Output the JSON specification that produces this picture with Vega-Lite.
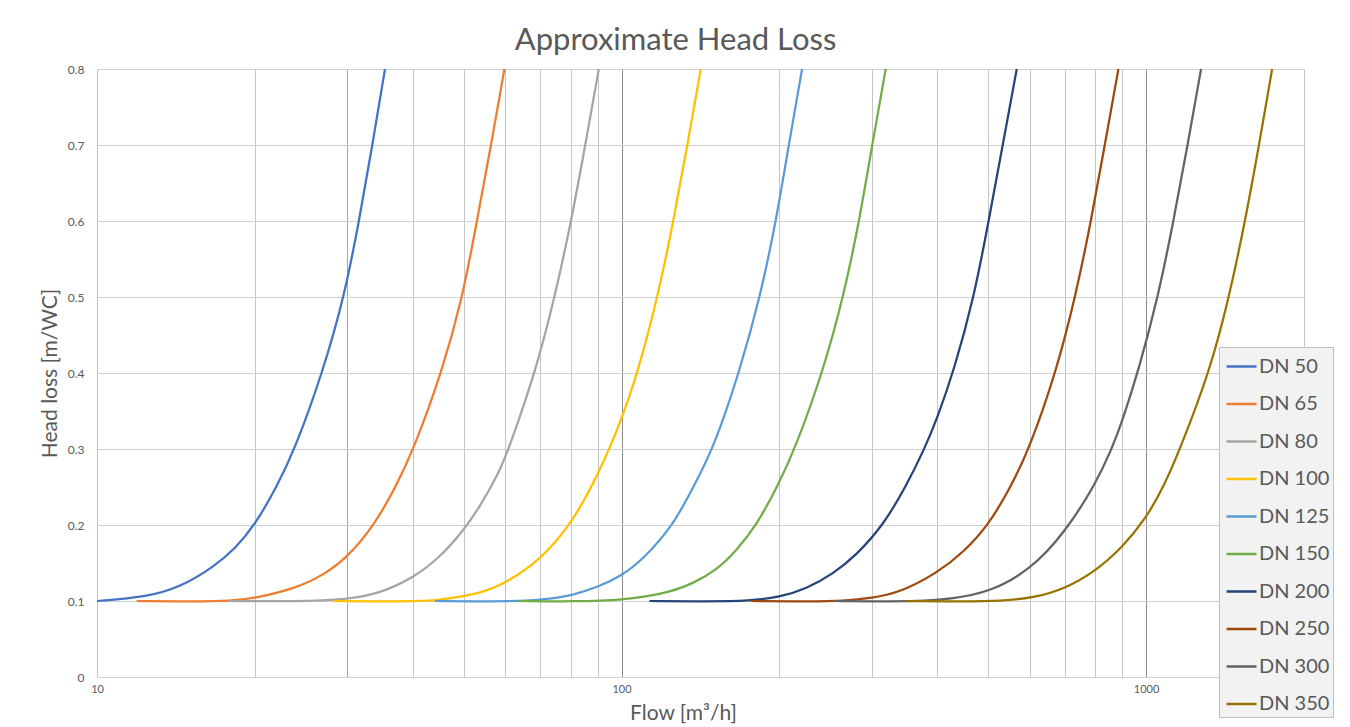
{
  "$schema": "https://vega.github.io/schema/vega-lite/v6.json",
  "autosize": {"type": "none"},
  "padding": {"left": 97, "top": 69, "right": 46, "bottom": 50},
  "width": 1207,
  "height": 608,
  "background": "white",
  "config": {
    "font": "Lato",
    "view": {"stroke": null},
    "axis": {"labelFont": "Lato", "titleFont": "Lato", "labelColor": "#595959", "titleColor": "#595959", "titleFontWeight": "normal"}
  },
  "title": {
    "text": "Approximate Head Loss",
    "fontSize": 31,
    "fontWeight": "normal",
    "color": "#595959",
    "font": "Lato",
    "anchor": "middle",
    "baseline": "alphabetic",
    "offset": -18,
    "dx": -25
  },
  "data": {
    "values": [
      {"s": "DN 50", "q": 10, "h": 0.1},
      {"s": "DN 50", "q": 12.4, "h": 0.105},
      {"s": "DN 50", "q": 14.4, "h": 0.118},
      {"s": "DN 50", "q": 16.7, "h": 0.145},
      {"s": "DN 50", "q": 18.4, "h": 0.17},
      {"s": "DN 50", "q": 20, "h": 0.2},
      {"s": "DN 50", "q": 22, "h": 0.25},
      {"s": "DN 50", "q": 23.85, "h": 0.3},
      {"s": "DN 50", "q": 26.9, "h": 0.4},
      {"s": "DN 50", "q": 29.6, "h": 0.5},
      {"s": "DN 50", "q": 31.6, "h": 0.6},
      {"s": "DN 50", "q": 33.5, "h": 0.7},
      {"s": "DN 50", "q": 35.4, "h": 0.8},

      {"s": "DN 65", "q": 11.9, "h": 0.1},
      {"s": "DN 65", "q": 15.5, "h": 0.0993},
      {"s": "DN 65", "q": 17.9, "h": 0.1},
      {"s": "DN 65", "q": 20, "h": 0.1035},
      {"s": "DN 65", "q": 24, "h": 0.117},
      {"s": "DN 65", "q": 27, "h": 0.134},
      {"s": "DN 65", "q": 30, "h": 0.157},
      {"s": "DN 65", "q": 33.8, "h": 0.2},
      {"s": "DN 65", "q": 37.1, "h": 0.25},
      {"s": "DN 65", "q": 40, "h": 0.297},
      {"s": "DN 65", "q": 45.4, "h": 0.4},
      {"s": "DN 65", "q": 49.8, "h": 0.5},
      {"s": "DN 65", "q": 53, "h": 0.6},
      {"s": "DN 65", "q": 56.4, "h": 0.7},
      {"s": "DN 65", "q": 59.8, "h": 0.8},

      {"s": "DN 80", "q": 17.9, "h": 0.1},
      {"s": "DN 80", "q": 24, "h": 0.0993},
      {"s": "DN 80", "q": 30, "h": 0.102},
      {"s": "DN 80", "q": 34.6, "h": 0.11},
      {"s": "DN 80", "q": 40, "h": 0.13},
      {"s": "DN 80", "q": 45, "h": 0.157},
      {"s": "DN 80", "q": 50, "h": 0.193},
      {"s": "DN 80", "q": 53.7, "h": 0.224},
      {"s": "DN 80", "q": 58.7, "h": 0.272},
      {"s": "DN 80", "q": 61.3, "h": 0.305},
      {"s": "DN 80", "q": 68.7, "h": 0.404},
      {"s": "DN 80", "q": 74.6, "h": 0.5},
      {"s": "DN 80", "q": 80.2, "h": 0.6},
      {"s": "DN 80", "q": 85.3, "h": 0.7},
      {"s": "DN 80", "q": 90.5, "h": 0.8},

      {"s": "DN 100", "q": 28.2, "h": 0.1},
      {"s": "DN 100", "q": 36, "h": 0.0993},
      {"s": "DN 100", "q": 43.8, "h": 0.1},
      {"s": "DN 100", "q": 47.1, "h": 0.1035},
      {"s": "DN 100", "q": 53.7, "h": 0.11},
      {"s": "DN 100", "q": 60, "h": 0.123},
      {"s": "DN 100", "q": 70, "h": 0.154},
      {"s": "DN 100", "q": 80, "h": 0.2},
      {"s": "DN 100", "q": 90, "h": 0.264},
      {"s": "DN 100", "q": 100, "h": 0.338},
      {"s": "DN 100", "q": 107.7, "h": 0.404},
      {"s": "DN 100", "q": 117.2, "h": 0.5},
      {"s": "DN 100", "q": 125.6, "h": 0.6},
      {"s": "DN 100", "q": 133.5, "h": 0.7},
      {"s": "DN 100", "q": 141.6, "h": 0.8},

      {"s": "DN 125", "q": 44.1, "h": 0.1},
      {"s": "DN 125", "q": 57, "h": 0.0993},
      {"s": "DN 125", "q": 66, "h": 0.1},
      {"s": "DN 125", "q": 73, "h": 0.103},
      {"s": "DN 125", "q": 80, "h": 0.107},
      {"s": "DN 125", "q": 90, "h": 0.118},
      {"s": "DN 125", "q": 100, "h": 0.133},
      {"s": "DN 125", "q": 110, "h": 0.155},
      {"s": "DN 125", "q": 125.6, "h": 0.2},
      {"s": "DN 125", "q": 137, "h": 0.25},
      {"s": "DN 125", "q": 149.6, "h": 0.3},
      {"s": "DN 125", "q": 168.2, "h": 0.404},
      {"s": "DN 125", "q": 183.7, "h": 0.5},
      {"s": "DN 125", "q": 197.1, "h": 0.6},
      {"s": "DN 125", "q": 208.3, "h": 0.7},
      {"s": "DN 125", "q": 220.9, "h": 0.8},

      {"s": "DN 150", "q": 63.6, "h": 0.1},
      {"s": "DN 150", "q": 82, "h": 0.0993},
      {"s": "DN 150", "q": 100, "h": 0.101},
      {"s": "DN 150", "q": 121.9, "h": 0.11},
      {"s": "DN 150", "q": 137, "h": 0.123},
      {"s": "DN 150", "q": 151.8, "h": 0.141},
      {"s": "DN 150", "q": 165, "h": 0.165},
      {"s": "DN 150", "q": 181, "h": 0.2},
      {"s": "DN 150", "q": 198, "h": 0.25},
      {"s": "DN 150", "q": 214.2, "h": 0.3},
      {"s": "DN 150", "q": 242.6, "h": 0.404},
      {"s": "DN 150", "q": 264.8, "h": 0.5},
      {"s": "DN 150", "q": 284, "h": 0.6},
      {"s": "DN 150", "q": 300.4, "h": 0.7},
      {"s": "DN 150", "q": 318.9, "h": 0.8},

      {"s": "DN 200", "q": 113, "h": 0.1},
      {"s": "DN 200", "q": 145, "h": 0.0993},
      {"s": "DN 200", "q": 175.8, "h": 0.1},
      {"s": "DN 200", "q": 200, "h": 0.105},
      {"s": "DN 200", "q": 225, "h": 0.116},
      {"s": "DN 200", "q": 253.5, "h": 0.136},
      {"s": "DN 200", "q": 280, "h": 0.16},
      {"s": "DN 200", "q": 315.6, "h": 0.2},
      {"s": "DN 200", "q": 348, "h": 0.25},
      {"s": "DN 200", "q": 378, "h": 0.3},
      {"s": "DN 200", "q": 400, "h": 0.341},
      {"s": "DN 200", "q": 430.5, "h": 0.404},
      {"s": "DN 200", "q": 470, "h": 0.5},
      {"s": "DN 200", "q": 501, "h": 0.6},
      {"s": "DN 200", "q": 533, "h": 0.7},
      {"s": "DN 200", "q": 566.8, "h": 0.8},

      {"s": "DN 250", "q": 176.3, "h": 0.1},
      {"s": "DN 250", "q": 230, "h": 0.0993},
      {"s": "DN 250", "q": 265, "h": 0.1},
      {"s": "DN 250", "q": 300, "h": 0.104},
      {"s": "DN 250", "q": 339, "h": 0.111},
      {"s": "DN 250", "q": 400, "h": 0.137},
      {"s": "DN 250", "q": 450, "h": 0.165},
      {"s": "DN 250", "q": 500.6, "h": 0.2},
      {"s": "DN 250", "q": 550, "h": 0.248},
      {"s": "DN 250", "q": 599, "h": 0.3},
      {"s": "DN 250", "q": 675.5, "h": 0.404},
      {"s": "DN 250", "q": 733, "h": 0.5},
      {"s": "DN 250", "q": 785.6, "h": 0.6},
      {"s": "DN 250", "q": 834, "h": 0.7},
      {"s": "DN 250", "q": 885.6, "h": 0.8},

      {"s": "DN 300", "q": 253.5, "h": 0.1},
      {"s": "DN 300", "q": 330, "h": 0.0993},
      {"s": "DN 300", "q": 380, "h": 0.1},
      {"s": "DN 300", "q": 425, "h": 0.103},
      {"s": "DN 300", "q": 500, "h": 0.111},
      {"s": "DN 300", "q": 600, "h": 0.14},
      {"s": "DN 300", "q": 700, "h": 0.19},
      {"s": "DN 300", "q": 800, "h": 0.253},
      {"s": "DN 300", "q": 860, "h": 0.3},
      {"s": "DN 300", "q": 900, "h": 0.336},
      {"s": "DN 300", "q": 968, "h": 0.404},
      {"s": "DN 300", "q": 1054, "h": 0.5},
      {"s": "DN 300", "q": 1128, "h": 0.6},
      {"s": "DN 300", "q": 1200, "h": 0.7},
      {"s": "DN 300", "q": 1273, "h": 0.8},

      {"s": "DN 350", "q": 347, "h": 0.1},
      {"s": "DN 350", "q": 450, "h": 0.0993},
      {"s": "DN 350", "q": 530, "h": 0.1},
      {"s": "DN 350", "q": 610, "h": 0.104},
      {"s": "DN 350", "q": 700, "h": 0.116},
      {"s": "DN 350", "q": 800, "h": 0.139},
      {"s": "DN 350", "q": 900, "h": 0.17},
      {"s": "DN 350", "q": 1000, "h": 0.209},
      {"s": "DN 350", "q": 1080, "h": 0.25},
      {"s": "DN 350", "q": 1161, "h": 0.3},
      {"s": "DN 350", "q": 1325, "h": 0.404},
      {"s": "DN 350", "q": 1440, "h": 0.5},
      {"s": "DN 350", "q": 1545, "h": 0.6},
      {"s": "DN 350", "q": 1642, "h": 0.7},
      {"s": "DN 350", "q": 1739, "h": 0.8}
    ]
  },
  "mark": {"type": "line", "interpolate": "basis", "strokeWidth": 2.25},
  "encoding": {
    "x": {
      "field": "q",
      "type": "quantitative",
      "scale": {"type": "log", "domain": [10, 2000], "nice": false},
      "axis": {
        "values": [10, 20, 30, 40, 50, 60, 70, 80, 90, 100, 200, 300, 400, 500, 600, 700, 800, 900, 1000, 2000],
        "labelExpr": "datum.value == 10 || datum.value == 100 || datum.value == 1000 ? format(datum.value, 'd') : ''",
        "labelFlush": false,
        "labelFontSize": 11,
        "labelPadding": 6,
        "ticks": false,
        "domain": false,
        "grid": true,
        "gridColor": {"condition": [{"test": "datum.value == 100 || datum.value == 1000", "value": "#8c8c8c"}, {"test": "datum.value == 30", "value": "#a6a6a6"}], "value": "#c4c4c4"},
        "gridWidth": 1,
        "title": "Flow [m³/h]",
        "titleFontSize": 21,
        "titleX": 586,
        "titleY": 36,
        "titleBaseline": "middle",
        "titleAlign": "center"
      }
    },
    "y": {
      "field": "h",
      "type": "quantitative",
      "scale": {"domain": [0, 0.8], "nice": false, "zero": true},
      "axis": {
        "values": [0, 0.1, 0.2, 0.3, 0.4, 0.5, 0.6, 0.7, 0.8],
        "format": ".1~f",
        "labelFontSize": 12,
        "labelPadding": 13,
        "ticks": false,
        "domain": false,
        "grid": true,
        "gridColor": "#d0d0d0",
        "title": "Head loss [m/WC]",
        "titleFontSize": 21,
        "titleX": -47,
        "titleY": 304,
        "titleAngle": -90,
        "titleBaseline": "middle",
        "titleAlign": "center"
      }
    },
    "color": {
      "field": "s",
      "type": "nominal",
      "scale": {
        "domain": ["DN 50", "DN 65", "DN 80", "DN 100", "DN 125", "DN 150", "DN 200", "DN 250", "DN 300", "DN 350"],
        "range": ["#4472c4", "#ed7d31", "#a5a5a5", "#ffc000", "#5b9bd5", "#70ad47", "#264478", "#9e480e", "#636363", "#997300"]
      },
      "legend": {
        "title": null,
        "orient": "none",
        "legendX": 1122,
        "legendY": 278,
        "fillColor": "#f2f2f2",
        "strokeColor": "#bfbfbf",
        "padding": 3,
        "symbolType": "stroke",
        "symbolSize": 900,
        "symbolStrokeWidth": 2.5,
        "symbolOffset": 3,
        "labelFont": "Lato",
        "labelFontSize": 20,
        "labelColor": "#595959",
        "labelOffset": 1,
        "rowPadding": 10.5
      }
    }
  }
}
